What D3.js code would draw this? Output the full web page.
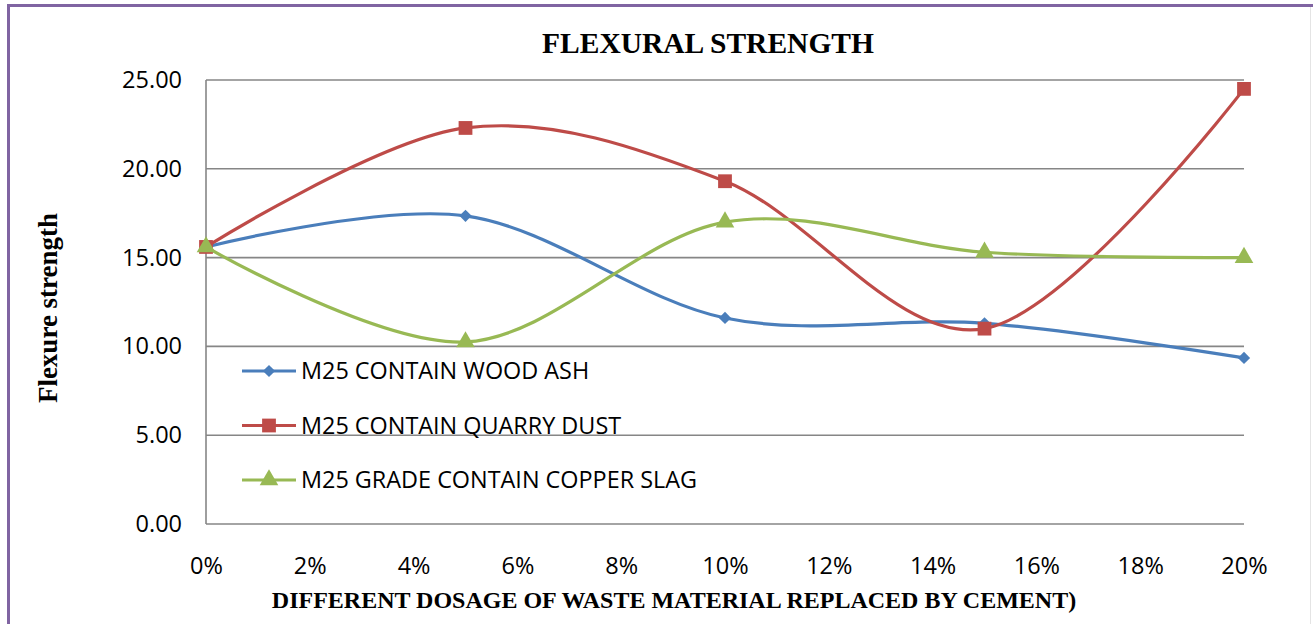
<!DOCTYPE html>
<html>
<head>
<meta charset="utf-8">
<script src="https://cdn.jsdelivr.net/npm/d3@7"></script>
<style>
  body { margin: 0; background: #fff; }
</style>
</head>
<body>
<div id="chart"></div>
<script>
// data
var dosage = [0, 5, 10, 15, 20];
var woodAsh = [15.6, 17.35, 11.6, 11.3, 9.35];
var quarryDust = [15.6, 22.3, 19.3, 11.0, 24.5];
var copperSlag = [15.6, 10.25, 17.0, 15.3, 15.0];
var seriesNames = ["M25 CONTAIN WOOD ASH", "M25 CONTAIN QUARRY DUST", "M25 GRADE CONTAIN COPPER SLAG"];
var xTicks = [0, 2, 4, 6, 8, 10, 12, 14, 16, 18, 20];
var yTicks = [0, 5, 10, 15, 20, 25];

var W = 1313, H = 624;
var margin = {top: 80, right: 69, bottom: 100, left: 206},
    width = W - margin.left - margin.right,
    height = H - margin.top - margin.bottom;

var svg = d3.select("#chart")
  .append("svg")
    .attr("width", W)
    .attr("height", H);

// outer frame (purple top/left, light grey right)
svg.append("line").attr("x1", 8).attr("x2", W).attr("y1", 5.5).attr("y2", 5.5)
  .attr("stroke", "#8064a2").attr("stroke-width", 3);
svg.append("line").attr("x1", 8.5).attr("x2", 8.5).attr("y1", 4).attr("y2", H)
  .attr("stroke", "#8064a2").attr("stroke-width", 3);
svg.append("line").attr("x1", 1310.5).attr("x2", 1310.5).attr("y1", 7).attr("y2", H)
  .attr("stroke", "#e4e4e4").attr("stroke-width", 1);

var g = svg.append("g")
  .attr("transform", "translate(" + margin.left + "," + margin.top + ")");

var x = d3.scaleLinear().domain([0, 20]).range([0, width]);
var y = d3.scaleLinear().domain([0, 25]).range([height, 0]);

// gridlines
g.append("g")
  .selectAll("line")
  .data(yTicks)
  .enter().append("line")
    .attr("x1", 0)
    .attr("x2", width)
    .attr("y1", function(d) { return y(d); })
    .attr("y2", function(d) { return y(d); })
    .attr("stroke", "#868686")
    .attr("stroke-width", 1.6);

// left axis line
g.append("line")
  .attr("x1", 0).attr("x2", 0).attr("y1", 0).attr("y2", height)
  .attr("stroke", "#868686").attr("stroke-width", 1.6);

// Y axis labels
var yAxis = g.append("g")
  .call(d3.axisLeft(y).tickValues(yTicks).tickFormat(d3.format(".2f")).tickSize(0).tickPadding(24));
yAxis.select(".domain").remove();
yAxis.selectAll("text")
  .attr("font-family", "'Open Sans', sans-serif")
  .attr("font-size", "23.5px")
  .attr("fill", "#000");

// X axis labels
var xAxis = g.append("g")
  .attr("transform", "translate(0," + height + ")")
  .call(d3.axisBottom(x).tickValues(xTicks).tickFormat(function(d) { return d + "%"; }).tickSize(0).tickPadding(33));
xAxis.select(".domain").remove();
xAxis.selectAll("text")
  .attr("font-family", "'Open Sans', sans-serif")
  .attr("font-size", "23.5px")
  .attr("fill", "#000");

var colors = ["#4a7ebb", "#be4b48", "#98b954"];
var allSeries = [woodAsh, quarryDust, copperSlag];
var shapes = [d3.symbolSquare, d3.symbolSquare, d3.symbolTriangle];
var sizes = [75, 190, 150];
var rot = [45, 0, 0];

var line = d3.line()
  .x(function(d, i) { return x(dosage[i]); })
  .y(function(d) { return y(d); })
  .curve(d3.curveCardinal.tension(0));

allSeries.forEach(function(vals, k) {
  g.append("path")
    .datum(vals)
    .attr("fill", "none")
    .attr("stroke", colors[k])
    .attr("stroke-width", 3.2)
    .attr("d", line);
});

allSeries.forEach(function(vals, k) {
  g.selectAll(".m" + k)
    .data(vals)
    .enter().append("path")
      .attr("class", "m" + k)
      .attr("transform", function(d, i) { return "translate(" + x(dosage[i]) + "," + y(d) + ") rotate(" + rot[k] + ")"; })
      .attr("d", d3.symbol().type(shapes[k]).size(sizes[k]))
      .attr("fill", colors[k]);
});

// legend
var legend = svg.append("g");
seriesNames.forEach(function(name, k) {
  var ly = 371 + k * 54.5;
  legend.append("line")
    .attr("x1", 242).attr("x2", 296).attr("y1", ly).attr("y2", ly)
    .attr("stroke", colors[k]).attr("stroke-width", 3.2);
  legend.append("path")
    .attr("transform", "translate(269," + ly + ") rotate(" + rot[k] + ")")
    .attr("d", d3.symbol().type(shapes[k]).size(sizes[k]))
    .attr("fill", colors[k]);
  legend.append("text")
    .attr("x", 301)
    .attr("y", ly + 8)
    .attr("font-family", "'Open Sans', sans-serif")
    .attr("font-size", "23.4px")
    .attr("fill", "#000")
    .text(name);
});

// titles
svg.append("text")
  .attr("x", 708)
  .attr("y", 53)
  .attr("text-anchor", "middle")
  .attr("font-family", "'Liberation Serif', serif")
  .attr("font-weight", "bold")
  .attr("font-size", "29.5px")
  .text("FLEXURAL STRENGTH");

svg.append("text")
  .attr("transform", "translate(57," + 308 + ") rotate(-90)")
  .attr("text-anchor", "middle")
  .attr("font-family", "'Liberation Serif', serif")
  .attr("font-weight", "bold")
  .attr("font-size", "27px")
  .text("Flexure strength");

svg.append("text")
  .attr("x", 674)
  .attr("y", 608)
  .attr("text-anchor", "middle")
  .attr("font-family", "'Liberation Serif', serif")
  .attr("font-weight", "bold")
  .attr("font-size", "24px")
  .text("DIFFERENT DOSAGE OF WASTE MATERIAL REPLACED BY CEMENT)");
</script>
</body>
</html>
